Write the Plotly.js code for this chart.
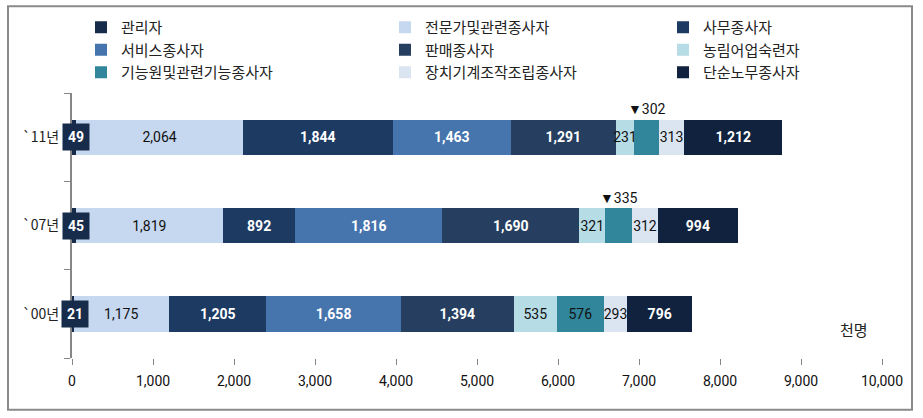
<!DOCTYPE html>
<html>
<head>
<meta charset="utf-8">
<script src="https://cdn.plot.ly/plotly-3.0.1.min.js"></script>
<style>
html,body{margin:0;padding:0;background:#fff;}
#chart{width:923px;height:418px;}
</style>
</head>
<body>
<div id="chart"></div>
<script>
// ---- data ----
const years = ['`00년', '`07년', '`11년'];
const seriesNames = ['관리자', '전문가및관련종사자', '사무종사자', '서비스종사자', '판매종사자', '농림어업숙련자', '기능원및관련기능종사자', '장치기계조작조립종사자', '단순노무종사자'];
const manager      = [21, 45, 49];
const professional = [1175, 1819, 2064];
const clerical     = [1205, 892, 1844];
const service      = [1658, 1816, 1463];
const sales        = [1394, 1690, 1291];
const agri         = [535, 321, 231];
const craft        = [576, 335, 302];
const machine      = [293, 312, 313];
const elementary   = [796, 994, 1212];
const xTicks = [0,1000,2000,3000,4000,5000,6000,7000,8000,9000,10000];
// teal segments labelled with a callout above the bar (index into years)
const craftCallout = [false, true, true];

// ---- styles ----
const colors = ['#162c4a', '#c6d8ef', '#1d3a63', '#4674ad', '#263f60', '#b6dce6', '#31869b', '#dbe5f1', '#10223d'];
const whiteText = [true, false, true, true, true, false, false, false, true];
const legendOf = ['legend', 'legend2', 'legend3', 'legend', 'legend2', 'legend3', 'legend', 'legend2', 'legend3'];
const numFont = 'Roboto, Liberation Sans, sans-serif';
const krFont = 'Noto Sans CJK KR, sans-serif';

const allSeries = [manager, professional, clerical, service, sales, agri, craft, machine, elementary];

const traces = allSeries.map((vals, i) => {
  let text = vals.map(v => whiteText[i] ? '<b>' + v.toLocaleString('en-US') + '</b>' : v.toLocaleString('en-US'));
  if (i === 0) text = vals.map(() => '');
  if (i === 6) text = text.map((t, k) => craftCallout[k] ? '' : t);
  return {
    type: 'bar', orientation: 'h',
    name: seriesNames[i], x: vals, y: years,
    legend: legendOf[i],
    marker: {color: colors[i], line: {width: 0}},
    text: text, texttemplate: '%{text}',
    textposition: 'inside', insidetextanchor: 'middle',
    textangle: 0, constraintext: 'none',
    textfont: {family: numFont, size: 14, color: whiteText[i] ? '#ffffff' : '#111111'},
    hoverinfo: 'skip'
  };
});

const annotations = [];
// manager labels with filled box
manager.forEach((v, k) => {
  annotations.push({
    x: v / 2, y: years[k], xref: 'x', yref: 'y', showarrow: false, xshift: 2,
    text: '<b>' + v + '</b>', bgcolor: colors[0], borderpad: 5,
    font: {family: numFont, size: 14, color: '#ffffff'}
  });
});
// craft callouts
years.forEach((yr, k) => {
  if (!craftCallout[k]) return;
  const start = manager[k] + professional[k] + clerical[k] + service[k] + sales[k] + agri[k];
  annotations.push({
    x: start + craft[k] / 2, y: yr, xref: 'x', yref: 'y', showarrow: false,
    yshift: 28, text: '▼' + craft[k],
    font: {family: numFont, size: 14, color: '#111111'}
  });
});
// unit label
annotations.push({
  x: 0.985, y: 0.06, xref: 'paper', yref: 'paper', showarrow: false,
  text: '천명', font: {family: krFont, size: 15, color: '#222222'}
});

const L = 72, R = 41, T = 92, B = 60, W = 923, H = 418;
const pw = W - L - R, ph = H - T - B;
const px = x => (x - L) / pw;
const py = y => (H - B - y) / ph;

const legendBase = {
  orientation: 'v', xanchor: 'left', yanchor: 'top',
  font: {family: krFont, size: 15, color: '#222222'},
  bgcolor: 'rgba(0,0,0,0)', tracegroupgap: 0, itemwidth: 30,
  traceorder: 'normal'
};

const layout = {
  width: W, height: H,
  margin: {l: L, r: R, t: T, b: B, pad: 0},
  paper_bgcolor: '#ffffff', plot_bgcolor: '#ffffff',
  barmode: 'stack', bargap: 0.6,
  showlegend: true,
  legend:  Object.assign({}, legendBase, {x: px(81), y: py(11)}),
  legend2: Object.assign({}, legendBase, {x: px(385), y: py(11)}),
  legend3: Object.assign({}, legendBase, {x: px(663), y: py(11)}),
  xaxis: {
    range: [0, 10000], tickvals: xTicks, ticktext: xTicks.map(v => v.toLocaleString('en-US')),
    showgrid: false, zeroline: false, showline: false,
    ticks: 'outside', ticklen: 6, tickwidth: 1, tickcolor: '#868686', ticklabelstandoff: 4,
    tickfont: {family: numFont, size: 14, color: '#111111'}, fixedrange: true
  },
  yaxis: {
    type: 'category', categoryorder: 'array', categoryarray: years,
    range: [-0.5, 2.5],
    showgrid: false, zeroline: false,
    showline: true, linecolor: '#868686', linewidth: 2,
    ticks: 'outside', ticklen: 6, tickwidth: 1, tickcolor: '#868686', tickson: 'boundaries',
    ticklabelstandoff: 8,
    tickfont: {family: krFont, size: 14, color: '#222222'}, fixedrange: true
  },
  annotations: annotations,
  shapes: [{
    type: 'rect', xref: 'paper', yref: 'paper',
    x0: px(8), x1: px(912), y0: py(410), y1: py(5),
    line: {color: '#8a8a8a', width: 2}, fillcolor: 'rgba(0,0,0,0)', layer: 'below'
  }]
};

Plotly.newPlot('chart', traces, layout, {displayModeBar: false, staticPlot: true});
</script>
</body>
</html>
